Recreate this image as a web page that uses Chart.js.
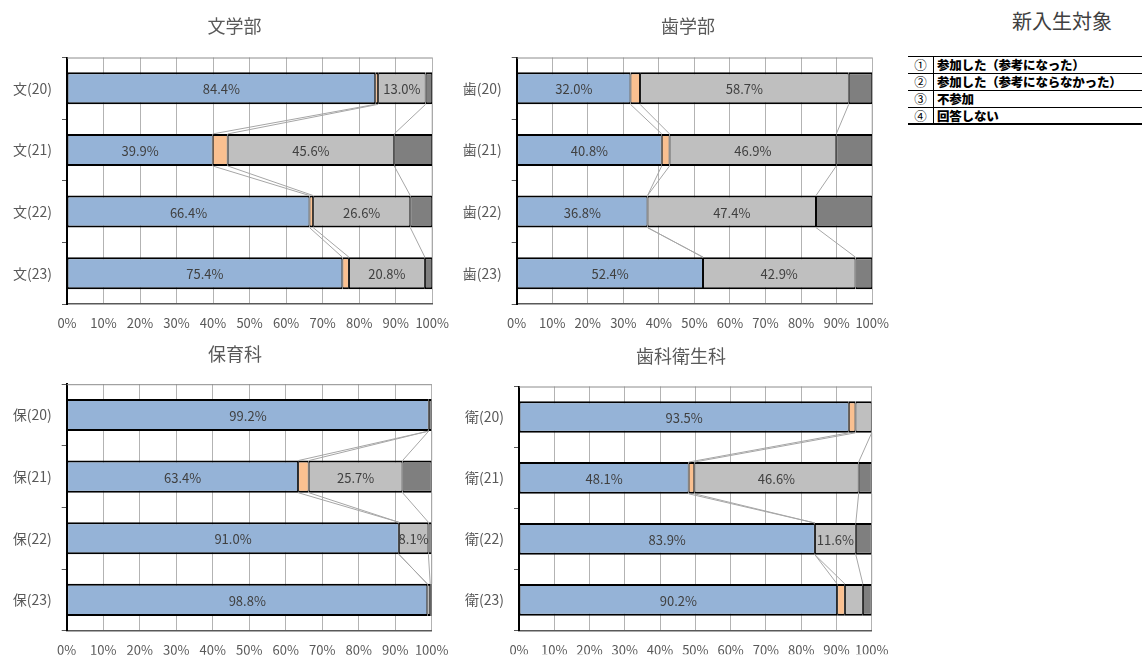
<!DOCTYPE html>
<html lang="ja">
<head>
<meta charset="utf-8">
<title>新入生対象</title>
<script src="https://cdn.jsdelivr.net/npm/chart.js@4"></script>
<style>
    body { margin: 0; background: #fff; font-family: 'Noto Sans CJK JP', 'Noto Sans', sans-serif; }
    #page { position: relative; width: 1142px; height: 657px; overflow: hidden; }
    canvas { position: absolute; }
    #heading { position: absolute; left: 1000px; top: 7px; width: 124px; text-align: center; font-size: 20px; color: #404040; line-height: 28px; }
    #legend { position: absolute; left: 908px; top: 56px; width: 234px; border-top: 1.5px solid #000; }
    .row { display: flex; box-sizing: border-box; height: 16.9px; border-bottom: 1.5px solid #000; font-size: 12.5px; line-height: 15px; color: #000; }
    .row:last-child { border-bottom-width: 2px; }
    .num { width: 25px; border-right: 1px solid #000; text-align: center; font-weight: normal; }
    .txt { padding-left: 3px; font-weight: 900; letter-spacing: -0.2px; white-space: nowrap; }
</style>
</head>
<body>
<div id="page">
    <canvas id="chart-bun" width="460" height="335" style="left:0;top:0"></canvas>
    <canvas id="chart-shi" width="440" height="335" style="left:460px;top:0"></canvas>
    <canvas id="chart-ho" width="460" height="322" style="left:0;top:335px"></canvas>
    <canvas id="chart-ei" width="440" height="322" style="left:460px;top:335px"></canvas>
    <div id="heading">新入生対象</div>
    <div id="legend"></div>
</div>
<script>
// Data (percent of respondents)
const seriesNames = ['参加した（参考になった）', '参加した（参考にならなかった）', '不参加', '回答しない'];
const seriesMarks = ['①', '②', '③', '④'];
const xTicks = [0, 10, 20, 30, 40, 50, 60, 70, 80, 90, 100];

const bunLabels = ['文(20)', '文(21)', '文(22)', '文(23)'];
const bun1 = [84.4, 39.9, 66.4, 75.4];
const bun2 = [0.8, 4.1, 1.0, 1.8];
const bun3 = [13.0, 45.6, 26.6, 20.8];
const bun4 = [1.8, 10.4, 6.0, 2.0];

const shiLabels = ['歯(20)', '歯(21)', '歯(22)', '歯(23)'];
const shi1 = [32.0, 40.8, 36.8, 52.4];
const shi2 = [2.7, 2.2, 0, 0];
const shi3 = [58.7, 46.9, 47.4, 42.9];
const shi4 = [6.6, 10.1, 15.8, 4.7];

const hoLabels = ['保(20)', '保(21)', '保(22)', '保(23)'];
const ho1 = [99.2, 63.4, 91.0, 98.8];
const ho2 = [0, 2.9, 0, 0];
const ho3 = [0, 25.7, 8.1, 0.8];
const ho4 = [0.8, 8.0, 0.9, 0.4];

const eiLabels = ['衛(20)', '衛(21)', '衛(22)', '衛(23)'];
const ei1 = [93.5, 48.1, 83.9, 90.2];
const ei2 = [1.9, 1.6, 0, 2.2];
const ei3 = [4.6, 46.6, 11.6, 5.1];
const ei4 = [0, 3.7, 4.5, 2.5];

const FONT = "'Noto Sans CJK JP', 'Noto Sans', sans-serif";
const colors = ['#95B3D7', '#FAC090', '#BFBFBF', '#7F7F7F'];
const labelledSeries = [true, false, true, false];
const minLabelValue = 8;

Chart.defaults.font.family = FONT;

// Excel-style series lines between neighbouring bars + top border of plot
const seriesLinesPlugin = {
    id: 'seriesLines',
    afterDatasetsDraw(chart) {
        const ctx = chart.ctx;
        const area = chart.chartArea;
        ctx.save();
        ctx.strokeStyle = '#a6a6a6';
        ctx.lineWidth = 1;
        chart.getSortedVisibleDatasetMetas().forEach(meta => {
            const bars = meta.data;
            for (let i = 0; i < bars.length - 1; i++) {
                const a = bars[i];
                const b = bars[i + 1];
                ctx.beginPath();
                ctx.moveTo(a.x, a.y + a.height / 2);
                ctx.lineTo(b.x, b.y - b.height / 2);
                ctx.stroke();
            }
        });
        ctx.strokeStyle = '#8c8c8c';
        ctx.beginPath();
        ctx.moveTo(area.left, area.top + 0.5);
        ctx.lineTo(area.right, area.top + 0.5);
        ctx.stroke();
        ctx.restore();
    }
};

// Value labels in the middle of the segments
const valueLabelsPlugin = {
    id: 'valueLabels',
    afterDatasetsDraw(chart) {
        const ctx = chart.ctx;
        ctx.save();
        ctx.font = '13px ' + FONT;
        ctx.fillStyle = '#404040';
        ctx.textAlign = 'center';
        ctx.textBaseline = 'middle';
        chart.getSortedVisibleDatasetMetas().forEach(meta => {
            if (!labelledSeries[meta.index]) return;
            const values = chart.data.datasets[meta.index].data;
            meta.data.forEach((bar, i) => {
                if (values[i] < minLabelValue) return;
                ctx.fillText(values[i].toFixed(1) + '%', (bar.x + bar.base) / 2, bar.y + 1);
            });
        });
        ctx.restore();
    }
};

// Panel title, centred where the original workbook put it
const panelTitlePlugin = {
    id: 'panelTitle',
    afterDraw(chart, args, opts) {
        const ctx = chart.ctx;
        ctx.save();
        ctx.font = '18px ' + FONT;
        ctx.fillStyle = '#595959';
        ctx.textAlign = 'center';
        ctx.textBaseline = 'middle';
        ctx.fillText(opts.text, opts.x, opts.y);
        ctx.restore();
    }
};

function makeChart(id, title, labels, series, layout) {
    const ctx = document.getElementById(id).getContext('2d');
    return new Chart(ctx, {
        type: 'bar',
        data: {
            labels: labels,
            datasets: series.map((values, k) => ({
                label: seriesNames[k],
                data: values,
                backgroundColor: colors[k],
                borderColor: '#000',
                borderWidth: { top: 2, bottom: 2, left: 1, right: 1 },
                borderSkipped: false,
                barPercentage: 0.52,
                categoryPercentage: 1.0
            }))
        },
        options: {
            indexAxis: 'y',
            responsive: false,
            animation: false,
            devicePixelRatio: 1,
            layout: { padding: layout.padding },
            plugins: {
                legend: { display: false },
                tooltip: { enabled: false },
                title: { display: false },
                panelTitle: { text: title, x: layout.titleX, y: layout.titleY }
            },
            scales: {
                x: {
                    stacked: true,
                    min: xTicks[0],
                    max: xTicks[xTicks.length - 1],
                    afterBuildTicks: scale => { scale.ticks = xTicks.map(v => ({ value: v })); },
                    ticks: {
                        callback: v => v + '%',
                        color: '#595959',
                        font: { size: 13, family: FONT },
                        padding: layout.tickPadding,
                        maxRotation: 0,
                        autoSkip: false
                    },
                    grid: { color: '#b3b3b3', drawTicks: false },
                    border: { color: '#595959', width: 1.5 },
                    afterFit: scale => { scale.height = layout.xHeight; }
                },
                y: {
                    stacked: true,
                    ticks: { color: '#595959', font: { size: 14, family: FONT }, padding: 10 },
                    grid: { offset: true, drawOnChartArea: false, drawTicks: true, tickLength: 5, color: '#595959' },
                    border: { color: '#000', width: 2 },
                    afterFit: scale => { scale.width = layout.yWidth; }
                }
            }
        },
        plugins: [seriesLinesPlugin, valueLabelsPlugin, panelTitlePlugin]
    });
}

function buildLegend() {
    const legend = document.getElementById('legend');
    legend.innerHTML = seriesNames.map((name, k) => `
        <div class="row">
            <div class="num">${seriesMarks[k]}</div>
            <div class="txt">${name}</div>
        </div>
    `).join('');
}

document.addEventListener('DOMContentLoaded', function() {
    makeChart('chart-bun', '文学部', bunLabels, [bun1, bun2, bun3, bun4], {
        padding: { left: 0, right: 27, top: 57.5, bottom: 6 },
        titleX: 234.5, titleY: 26,
        yWidth: 67, xHeight: 25, tickPadding: 11
    });
    makeChart('chart-shi', '歯学部', shiLabels, [shi1, shi2, shi3, shi4], {
        padding: { left: 0, right: 25, top: 57.5, bottom: 6 },
        titleX: 228, titleY: 26,
        yWidth: 56.7, xHeight: 25, tickPadding: 11
    });
    makeChart('chart-ho', '保育科', hoLabels, [ho1, ho2, ho3, ho4], {
        padding: { left: 0, right: 27.3, top: 49.2, bottom: 2.3 },
        titleX: 235, titleY: 19,
        yWidth: 66.7, xHeight: 24, tickPadding: 11.5
    });
    makeChart('chart-ei', '歯科衛生科', eiLabels, [ei1, ei2, ei3, ei4], {
        padding: { left: 0, right: 28, top: 51.5, bottom: 2.7 },
        titleX: 221, titleY: 20.8,
        yWidth: 59, xHeight: 24, tickPadding: 11.5
    });
    buildLegend();
});
</script>
</body>
</html>
